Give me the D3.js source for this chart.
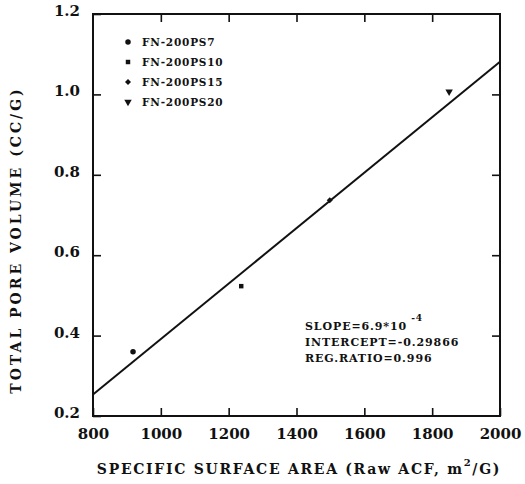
<!DOCTYPE html>
<html>
<head>
<meta charset="utf-8">
<script src="https://cdn.jsdelivr.net/npm/d3@7"></script>
<style>
  html, body { margin: 0; padding: 0; background: #fff; }
  svg { display: block; }
  text { font-family: "DejaVu Serif", serif; font-weight: bold; fill: #111; }
</style>
</head>
<body>
<svg id="chart" width="525" height="484"></svg>
<script>
// Samples: specific surface area (m2/g) vs total pore volume (cc/g)
const sampleNames = ["FN-200PS7", "FN-200PS10", "FN-200PS15", "FN-200PS20"];
const surfaceArea = [918, 1237, 1498, 1850];
const poreVolume = [0.36, 0.523, 0.737, 1.007];
const markerShapes = ["circle", "square", "diamond", "triangle"];

// Linear regression result
const slope = 6.9e-4;
const intercept = -0.29866;
const regRatio = 0.996;

const xTicks = [800, 1000, 1200, 1400, 1600, 1800, 2000];
const yTicks = [0.2, 0.4, 0.6, 0.8, 1.0, 1.2];
const xDomain = [800, 2000];
const yDomain = [0.2, 1.2];

const svg = d3.select("#chart");
const m = { left: 93, right: 500, top: 14, bottom: 416 };

const x = d3.scaleLinear().domain(xDomain).range([m.left, m.right]);
const y = d3.scaleLinear().domain(yDomain).range([m.bottom, m.top]);

const ink = "#111";

// Frame
svg.append("rect")
  .attr("x", m.left).attr("y", m.top)
  .attr("width", m.right - m.left).attr("height", m.bottom - m.top)
  .attr("fill", "none").attr("stroke", ink).attr("stroke-width", 2);

// Axes with inward ticks
const bottomAxis = d3.axisBottom(x).tickValues(xTicks).tickSize(-8).tickPadding(12)
  .tickFormat(d3.format("d"));
const gx = svg.append("g").attr("transform", `translate(0,${m.bottom})`).call(bottomAxis);
const topAxis = d3.axisTop(x).tickValues(xTicks.slice(1, -1)).tickSize(-8).tickFormat("");
const gxt = svg.append("g").attr("transform", `translate(0,${m.top})`).call(topAxis);

const leftAxis = d3.axisLeft(y).tickValues(yTicks).tickSize(-8).tickPadding(13)
  .tickFormat(d3.format(".1f"));
const gy = svg.append("g").attr("transform", `translate(${m.left},0)`).call(leftAxis);
const rightAxis = d3.axisRight(y).tickValues(yTicks.slice(1, -1)).tickSize(-8).tickFormat("");
const gyr = svg.append("g").attr("transform", `translate(${m.right},0)`).call(rightAxis);

[gx, gxt, gy, gyr].forEach(g => {
  g.select(".domain").remove();
  g.selectAll(".tick line").attr("stroke", ink).attr("stroke-width", 1.6);
  g.selectAll("text").attr("font-size", 15).attr("font-family", "DejaVu Serif")
    .attr("font-weight", "bold").attr("fill", ink);
});
gy.selectAll(".tick text").attr("dy", "0.1em");

// Regression line
const lineData = xDomain.map(v => [v, slope * v + intercept]);
svg.append("path")
  .datum(lineData)
  .attr("d", d3.line().x(d => x(d[0])).y(d => y(d[1])))
  .attr("fill", "none").attr("stroke", ink).attr("stroke-width", 2);

// Marker symbols
const symbolFor = {
  circle: d3.symbol().type(d3.symbolCircle).size(24),
  square: d3.symbol().type(d3.symbolSquare).size(20),
  diamond: d3.symbol().type(d3.symbolSquare).size(18),
  triangle: d3.symbol().type(d3.symbolTriangle).size(24)
};
function marker(g, shape, cx, cy) {
  const p = g.append("path").attr("d", symbolFor[shape]()).attr("fill", ink);
  let t = `translate(${cx},${cy})`;
  if (shape === "triangle") t += " rotate(180)";
  if (shape === "diamond") t += " rotate(45)";
  p.attr("transform", t);
}

const pts = svg.append("g");
surfaceArea.forEach((v, i) => marker(pts, markerShapes[i], x(v), y(poreVolume[i])));

// Legend
const legend = svg.append("g");
sampleNames.forEach((name, i) => {
  const ly = 42 + i * 20;
  marker(legend, markerShapes[i], 128, ly);
  legend.append("text").attr("x", 142).attr("y", ly + 4)
    .attr("font-size", 10.5).attr("letter-spacing", 0.8).text(name);
});

// Regression statistics
const stats = svg.append("g").attr("font-size", 11).attr("letter-spacing", 0.9);
const s1 = stats.append("text").attr("x", 305).attr("y", 330);
s1.append("tspan").text("SLOPE=" + (slope * 1e4).toFixed(1) + "*10");
s1.append("tspan").attr("dy", -9).attr("dx", 4).attr("font-size", 9).text("-4");
stats.append("text").attr("x", 305).attr("y", 346)
  .text("INTERCEPT=" + intercept.toFixed(5));
stats.append("text").attr("x", 305).attr("y", 362)
  .text("REG.RATIO=" + regRatio.toFixed(3));

// Axis titles
const xt = svg.append("text").attr("x", 299).attr("y", 474)
  .attr("text-anchor", "middle").attr("font-size", 14).attr("letter-spacing", 1.7);
xt.append("tspan").text("SPECIFIC SURFACE AREA (Raw ACF, m");
xt.append("tspan").attr("dy", -8).attr("font-size", 10).text("2");
xt.append("tspan").attr("dy", 8).text("/G)");

svg.append("text")
  .attr("transform", "translate(21,240) rotate(-90)")
  .attr("text-anchor", "middle").attr("font-size", 14).attr("letter-spacing", 3)
  .text("TOTAL PORE VOLUME (CC/G)");
</script>
</body>
</html>
